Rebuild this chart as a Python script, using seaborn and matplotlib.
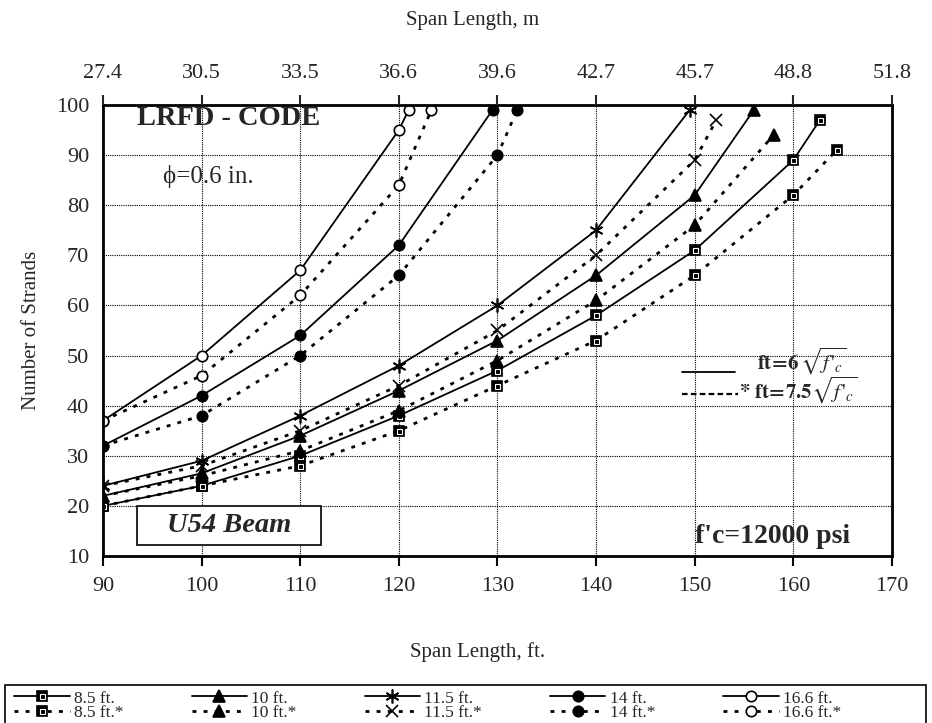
import matplotlib
matplotlib.use("Agg")
import matplotlib.pyplot as plt
import seaborn as sns
from matplotlib.patches import Rectangle

# Span length (ft) and number of strands
span_85 = [90, 100, 110, 120, 130, 140, 150, 160, 162.7]
n_85 = [20, 24, 30, 38, 47, 58, 71, 89, 97]
span_85s = [90, 100, 110, 120, 130, 140, 150, 160, 164.4]
n_85s = [20, 24, 28, 35, 44, 53, 66, 82, 91]

span_10 = [90, 100, 110, 120, 130, 140, 150, 156]
n_10 = [22, 26.5, 34, 43, 53, 66, 82, 99]
span_10s = [90, 100, 110, 120, 130, 140, 150, 158]
n_10s = [22, 26, 31, 39, 49, 61, 76, 94]

span_115 = [90, 100, 110, 120, 130, 140, 149.5]
n_115 = [24, 29, 38, 48, 60, 75, 99]
span_115s = [90, 100, 110, 120, 130, 140, 150, 152.2]
n_115s = [24, 28, 35, 44, 55, 70, 89, 97]

span_14 = [90, 100, 110, 120, 129.5]
n_14 = [32, 42, 54, 72, 99]
span_14s = [90, 100, 110, 120, 130, 132]
n_14s = [32, 38, 50, 66, 90, 99]

span_166 = [90, 100, 110, 120, 121]
n_166 = [37, 50, 67, 95, 99]
span_166s = [90, 100, 110, 120, 123.3]
n_166s = [37, 46, 62, 84, 99]

ft_ticks = [90, 100, 110, 120, 130, 140, 150, 160, 170]
m_labels = ["27.4", "30.5", "33.5", "36.6", "39.6", "42.7", "45.7", "48.8", "51.8"]
y_ticks = [10, 20, 30, 40, 50, 60, 70, 80, 90, 100]

sns.set_style("white")
plt.rcParams["font.family"] = ["Liberation Serif", "DejaVu Serif"]
plt.rcParams["mathtext.fontset"] = "stix"

fig = plt.figure(figsize=(9.32, 7.23), dpi=100)
ax = fig.add_axes([0.1105, 0.231, 0.8465, 0.6238])

solid = "-"
dotted = (0, (1.4, 2.6))

series = [
    (span_85, n_85, "8.5 ft.", "s", solid),
    (span_85s, n_85s, "8.5 ft.*", "s", dotted),
    (span_10, n_10, "10 ft.", "^", solid),
    (span_10s, n_10s, "10 ft.*", "^", dotted),
    (span_115, n_115, "11.5 ft.", (6, 2, 0), solid),
    (span_115s, n_115s, "11.5 ft.*", "x", dotted),
    (span_14, n_14, "14 ft.", "o", solid),
    (span_14s, n_14s, "14 ft.*", "o", dotted),
    (span_166, n_166, "16.6 ft.", "o", solid),
    (span_166s, n_166s, "16.6 ft.*", "o", dotted),
]

handles = []
labels = []
for xs, ys, lab, mk, ls in series:
    face = "white" if lab.startswith("16.6") else "black"
    lw = 1.3 if ls == solid else 2.0
    if isinstance(mk, tuple):
        ms = 10
    else:
        ms = {"s": 7, "^": 8.5, "o": 7.5, "x": 9}[mk]
    sns.lineplot(x=xs, y=ys, ax=ax, color="black", linestyle=ls, linewidth=lw,
                 marker=mk, markersize=ms, mfc=face, mec="black", mew=1.2)
    line = ax.lines[-1]
    if mk == "s":
        # white inner outline of the square marker
        sns.lineplot(x=xs, y=ys, ax=ax, color="black", linestyle="none",
                     marker="s", markersize=3.6, mfc="none", mec="white", mew=0.8)
        handles.append((line, ax.lines[-1]))
    else:
        handles.append(line)
    labels.append(lab)

ax.set_xlim(90, 170)
ax.set_ylim(10, 100)
ax.set_xticks(ft_ticks)
ax.set_yticks(y_ticks)
ax.grid(True, color="black", linestyle=(0, (1, 1)), linewidth=0.8)
for s in ax.spines.values():
    s.set_linewidth(2)
    s.set_color("black")
ax.tick_params(axis="both", labelsize=16, direction="out", length=7, width=1.5,
               color="black")
ax.tick_params(axis="x", pad=8)
ax.tick_params(axis="y", pad=3)
ax.set_ylabel("Number of Strands", fontsize=15)
ax.yaxis.set_label_coords(-0.078, 0.5)
ax.set_xlabel("")

ax_top = ax.twiny()
ax_top.set_xlim(ax.get_xlim())
ax_top.set_xticks(ft_ticks)
ax_top.set_xticklabels(m_labels)
ax_top.tick_params(axis="x", labelsize=16, direction="out", length=7, width=1.5, pad=9)
ax_top.grid(False)
for s in ax_top.spines.values():
    s.set_visible(False)

fig.text(473 / 932, 1 - 20 / 723, "Span Length, m", ha="center", va="center", fontsize=15)
fig.text(478 / 932, 1 - 652 / 723, "Span Length, ft.", ha="center", va="center", fontsize=15)

ax.text(93.4, 97.4, "LRFD - CODE", fontsize=20.5, fontweight="bold", va="center", ha="left")
ax.text(96.1, 85.8, "\u03d5=0.6 in.", fontsize=18, va="center", ha="left")
ax.text(150.0, 13.8, "f'c=12000 psi", fontsize=20, fontweight="bold", va="center", ha="left")

ax.add_patch(Rectangle((93.4, 12.1), 18.7, 7.9, facecolor="white", edgecolor="black",
                       linewidth=1.2, zorder=5))
ax.text(102.75, 16.05, "U54 Beam", fontsize=20.5, fontweight="bold", style="italic",
        ha="center", va="center", zorder=6)

ax.plot([148.7, 154.1], [46.7, 46.7], color="black", linewidth=1.3)
ax.plot([148.7, 154.4], [42.4, 42.4], color="black", linewidth=1.6, linestyle=(0, (2.5, 1.5)))
ax.text(156.3, 48.8, r"$\mathbf{ft\!=\!6}\,\sqrt{f\,'_{c}}$", fontsize=15, va="center", ha="left")
ax.text(154.5, 43.0, r"$\mathbf{*\ ft\!=\!7.5}\sqrt{f\,'_{c}}$", fontsize=15, va="center", ha="left")

# legend frame drawn in figure pixels, cut by the bottom edge as in the source
fig.patches.append(Rectangle((5 / 932, -0.01), 921 / 932, (723 - 685) / 723 + 0.01,
                             transform=fig.transFigure, facecolor="white",
                             edgecolor="black", linewidth=1.2, zorder=0))
leg = fig.legend(handles, labels, ncol=5, loc="upper left",
                 bbox_to_anchor=(4 / 932, 1 - 680 / 723),
                 fontsize=12.5, frameon=False,
                 handlelength=3.2, handletextpad=0.25, columnspacing=3.9,
                 labelspacing=-0.1, borderpad=0.1)

fig.savefig("out.png", dpi=100)
